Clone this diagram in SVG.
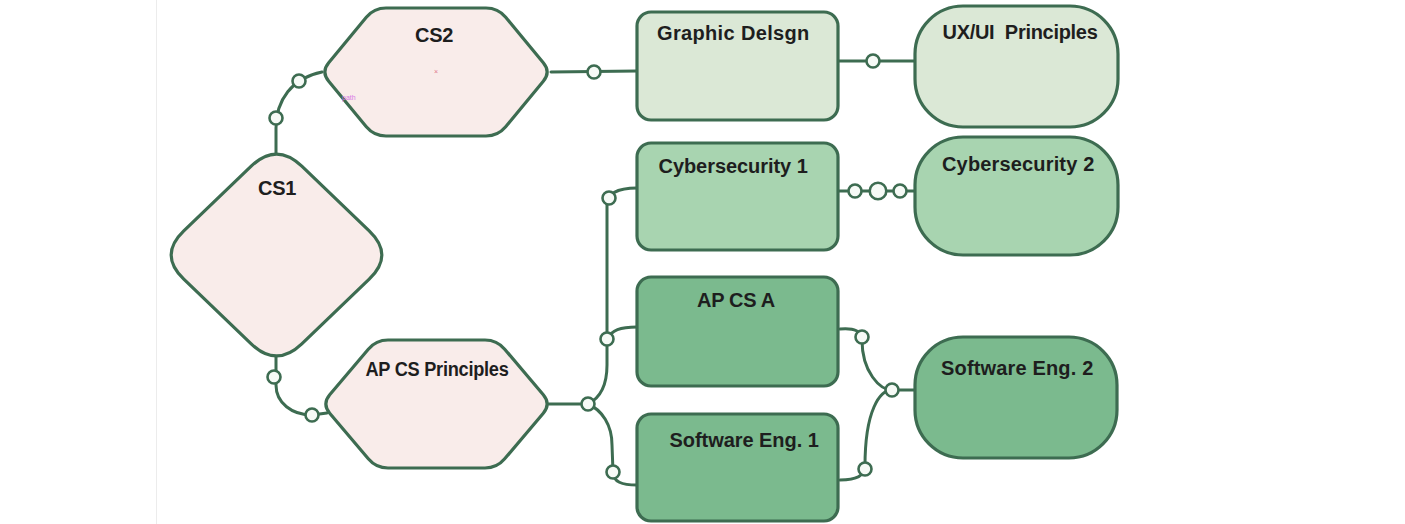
<svg xmlns="http://www.w3.org/2000/svg" width="1405" height="524" viewBox="0 0 1405 524">
<style>
.n{stroke:#3d6c51;stroke-width:3.2;stroke-linejoin:round}
.pink{fill:#f9ecea}
.light{fill:#dbe8d6}
.mid{fill:#a8d4b0}
.dark{fill:#7bba8e}
.t{font-family:"Liberation Sans",Arial,sans-serif;font-weight:bold;font-size:20px;fill:#1e1e1e;text-anchor:middle;letter-spacing:-0.3px}
.c{fill:none;stroke:#3d6c51;stroke-width:3;stroke-linecap:round}
.dot{fill:#f6faf6;stroke:#3d6c51;stroke-width:2.6}
</style>
<rect width="1405" height="524" fill="#ffffff"/>
<line x1="156.5" y1="0" x2="156.5" y2="524" stroke="#ececec" stroke-width="1"/>
<g id="connectors">
<path class="c" d="M276,154 L276,128 C276,100 292,78 322,72"/>
<path class="c" d="M276,357 L276,385 C276,403 292,415 312,415 L327,413"/>
<path class="c" d="M551,72 L637,71" stroke-width="3.6"/>
<path class="c" d="M838,61 L916,61"/>
<path class="c" d="M838,191 L916,191"/>
<path class="c" d="M543,404 L588,404"/>
<path class="c" d="M588,404 C600,398 607,385 607,365 L607,205 C607,193 618,188 637,188"/>
<path class="c" d="M607,339 C612,330 620,327 637,327"/>
<path class="c" d="M588,404 C602,410 612,425 612,445 L613,472 C613,482 622,485 637,485"/>
<path class="c" d="M840,329 Q862,327 862,340 C862,372 880,390 892,390 L916,390"/>
<path class="c" d="M840,480 Q865,480 865,466 C865,410 880,390 892,390"/>
<circle class="dot" cx="276" cy="118" r="6.5"/>
<circle class="dot" cx="299" cy="81" r="6.5"/>
<circle class="dot" cx="274" cy="377" r="6.5"/>
<circle class="dot" cx="312" cy="415" r="6.5"/>
<circle class="dot" cx="594" cy="72" r="6.5"/>
<circle class="dot" cx="873" cy="61" r="6.5"/>
<circle class="dot" cx="855" cy="191" r="6.5"/>
<circle class="dot" cx="878" cy="191" r="8.3"/>
<circle class="dot" cx="900" cy="191" r="6.5"/>
<circle class="dot" cx="588" cy="404" r="6.5"/>
<circle class="dot" cx="609" cy="198" r="6.5"/>
<circle class="dot" cx="607" cy="339" r="6.5"/>
<circle class="dot" cx="613" cy="472" r="6.5"/>
<circle class="dot" cx="862" cy="337" r="6.5"/>
<circle class="dot" cx="865" cy="469" r="6.5"/>
<circle class="dot" cx="892" cy="390" r="6.5"/>
</g>
<g id="cs1">
<path class="n pink" d="M251.2,166.2 Q276.5,142 301.8,166.2 L369.2,230.8 Q394.5,255 369.2,279.2 L301.8,343.8 Q276.5,368 251.2,343.8 L183.8,279.2 Q158.5,255 183.8,230.8 Z"/>
<text class="t" x="277" y="195">CS1</text>
</g>
<g id="cs2">
<path class="n pink" d="M328.7,62.8 L366.3,17.2 Q374,8 386,8 L486,8 Q498,8 505.7,17.2 L543.3,62.8 Q551,72 543.3,81.2 L505.7,126.8 Q498,136 486,136 L386,136 Q374,136 366.3,126.8 L328.7,81.2 Q321,72 328.7,62.8 Z"/>
<text class="t" x="434" y="42">CS2</text>
<text x="436" y="74" font-family="Liberation Sans,Arial,sans-serif" font-size="7" fill="#e07a8a" text-anchor="middle">×</text>
<text x="342" y="100" font-family="Liberation Sans,Arial,sans-serif" font-size="7" fill="#d77be6">path</text>
</g>
<g id="apcsp">
<path class="n pink" d="M329.7,394.8 L368.3,349.2 Q376,340 388,340 L485,340 Q497,340 504.7,349.2 L543.3,394.8 Q551,404 543.3,413.2 L504.7,458.8 Q497,468 485,468 L388,468 Q376,468 368.3,458.8 L329.7,413.2 Q322,404 329.7,394.8 Z"/>
<text class="t" x="437" y="376" textLength="143" lengthAdjust="spacingAndGlyphs">AP CS Principles</text>
</g>
<g id="graphic">
<rect class="n light" x="637" y="12" width="201" height="108" rx="14"/>
<text class="t" x="733" y="40" textLength="152">Graphic Delsgn</text>
</g>
<g id="uxui">
<rect class="n light" x="915" y="6" width="203" height="121" rx="48"/>
<text class="t" x="1020" y="39" textLength="155" lengthAdjust="spacingAndGlyphs" xml:space="preserve">UX/UI  Principles</text>
</g>
<g id="cyber1">
<rect class="n mid" x="637" y="143" width="201" height="107" rx="14"/>
<text class="t" x="733" y="173" textLength="149">Cybersecurity 1</text>
</g>
<g id="cyber2">
<rect class="n mid" x="915" y="137" width="203" height="118" rx="48"/>
<text class="t" x="1018" y="171" textLength="152">Cybersecurity 2</text>
</g>
<g id="apcsa">
<rect class="n dark" x="637" y="277" width="201" height="109" rx="14"/>
<text class="t" x="736" y="307">AP CS A</text>
</g>
<g id="se1">
<rect class="n dark" x="637" y="414" width="201" height="107" rx="14"/>
<text class="t" x="744" y="447" textLength="149">Software Eng. 1</text>
</g>
<g id="se2">
<rect class="n dark" x="915" y="337" width="202" height="121" rx="48"/>
<text class="t" x="1017" y="375" textLength="152">Software Eng. 2</text>
</g>
</svg>
